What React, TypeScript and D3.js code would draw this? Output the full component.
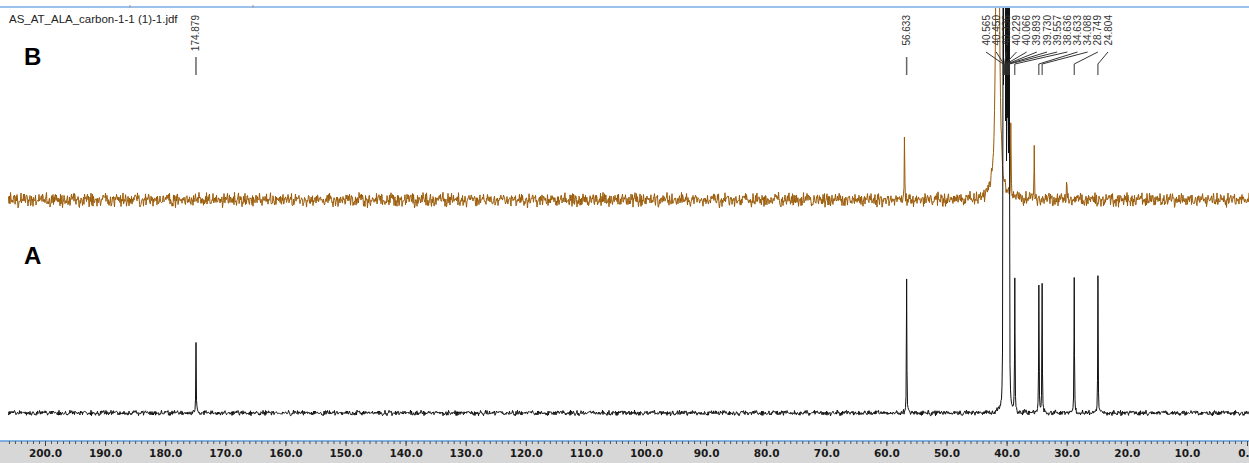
import * as d3 from "d3";
import { useEffect, useRef } from "react";

// chemical-shift axis labels (ppm)
const AXIS_LABELS = [200, 190, 180, 170, 160, 150, 140, 130, 120, 110, 100, 90, 80, 70, 60, 50, 40, 30, 20, 10, 0];

// peak picking labels drawn on top
const LABELS_SINGLE = ["174.879", "56.633"];
const LABELS_GROUP = ["40.565", "40.450", "40.336", "40.229", "40.066", "39.893", "39.730", "39.557", "38.636", "34.633", "34.088", "28.749", "24.804"];

// spectrum A (black, bottom trace)
const A_PPM = [174.879, 56.633, 40.565, 40.45, 40.336, 40.229, 40.066, 39.893, 39.73, 39.557, 38.636, 34.633, 34.088, 28.749, 24.804];
const A_HEIGHT = [71, 133, 900, 900, 900, 900, 900, 900, 900, 900, 132, 128, 129, 136, 136];
const A_WIDTH = [0.04, 0.04, 0.025, 0.025, 0.025, 0.025, 0.025, 0.025, 0.025, 0.025, 0.04, 0.04, 0.04, 0.04, 0.04];

// spectrum B (brown, top trace)
const B_PPM = [57.0, 41.5, 39.3, 35.4, 30.0];
const B_HEIGHT = [62, 900, 75, 60, 24];
const B_WIDTH = [0.04, 0.17, 0.04, 0.04, 0.05];

// baseline noise pattern
const NOISE = [0.42, -0.61, 0.15, 0.88, -0.27, -0.93, 0.36, 0.05, -0.48, 0.71, -0.12, 0.57, -0.79, 0.24, 0.96, -0.35,
  0.08, -0.66, 0.49, -0.18, 0.83, -0.54, 0.31, -0.87, 0.62, -0.03, 0.19, -0.72, 0.94, -0.41, 0.27, -0.58,
  0.75, -0.21, -0.95, 0.44, 0.11, -0.37, 0.68, -0.83, 0.52, 0.02, -0.64, 0.86, -0.15, 0.33, -0.49, 0.79,
  -0.08, -0.73, 0.58, 0.21, -0.91, 0.39, -0.26, 0.67, -0.45, 0.13, 0.91, -0.6, 0.29, -0.11, 0.55, -0.84];

export default function App() {
  const ref = useRef<SVGSVGElement>(null);

  useEffect(() => {
    const svg = d3.select(ref.current);
    svg.selectAll("*").remove();

    const W = 1249, H = 463;
    const x = d3.scaleLinear().domain([200, 0]).range([45, 1247]);
    const yB = d3.scaleLinear().domain([0, 100]).range([200, 100]);
    const yA = d3.scaleLinear().domain([0, 100]).range([413, 313]);
    const axisY = 441;

    svg.append("rect").attr("width", W).attr("height", H).attr("fill", "#fff");

    svg.append("defs").append("clipPath").attr("id", "plotclip")
      .append("rect").attr("x", 8).attr("y", 8).attr("width", W - 8).attr("height", axisY - 8);

    // top ruler line
    svg.append("line").attr("x1", 0).attr("x2", W).attr("y1", 7).attr("y2", 7)
      .style("stroke", "#7aaee6").style("stroke-width", "1.5px");
    [130, 253].forEach((tx) => {
      svg.append("line").attr("x1", tx).attr("x2", tx).attr("y1", 5).attr("y2", 8)
        .style("stroke", "#999").style("stroke-width", "1px");
    });

    svg.append("text").attr("x", 9).attr("y", 23)
      .style("font-family", "Liberation Sans, Arial, sans-serif").style("font-size", "11.5px").style("fill", "#222")
      .text("AS_AT_ALA_carbon-1-1 (1)-1.jdf");

    // sampling grid: half-pixel steps plus the exact peak positions
    const step = 0.5 / 6.01;
    const lo = x.invert(W), hi = x.invert(8);

    function trace(ppm: number[], height: number[], width: number[], amp: number, mult: number, off: number) {
      const grid = d3.range(lo, hi, step).concat(ppm).sort((a, b) => b - a);
      const n = NOISE.length;
      return grid.map((p, i) => {
        let v = 0;
        for (let k = 0; k < ppm.length; k++) {
          const w2 = width[k] * width[k];
          v += (height[k] * w2) / ((p - ppm[k]) * (p - ppm[k]) + w2);
        }
        const nz = 0.65 * NOISE[(i * mult + off) % n] + 0.55 * NOISE[(i * 5 + off * 3) % 61];
        return [p, v + nz * amp] as [number, number];
      });
    }

    const plot = svg.append("g").attr("clip-path", "url(#plotclip)");

    const dataB = trace(B_PPM, B_HEIGHT, B_WIDTH, 7, 7, 0);
    const dataA = trace(A_PPM, A_HEIGHT, A_WIDTH, 2.6, 11, 5);

    const lineB = d3.line<[number, number]>().x((d) => x(d[0])).y((d) => yB(d[1]));
    const lineA = d3.line<[number, number]>().x((d) => x(d[0])).y((d) => yA(d[1]));

    plot.append("path").attr("d", lineB(dataB))
      .style("fill", "none").style("stroke", "#9a5a06").style("stroke-width", "1px");
    plot.append("path").attr("d", lineA(dataA))
      .style("fill", "none").style("stroke", "#111").style("stroke-width", "1px");

    // panel letters
    svg.append("text").attr("x", 24).attr("y", 65)
      .style("font-family", "Liberation Sans, Arial, sans-serif").style("font-weight", "bold").style("font-size", "24px")
      .text("B");
    svg.append("text").attr("x", 24).attr("y", 264)
      .style("font-family", "Liberation Sans, Arial, sans-serif").style("font-weight", "bold").style("font-size", "24px")
      .text("A");

    // peak labels
    const labelFont = (sel: any) => sel
      .style("font-family", "Liberation Sans, Arial, sans-serif").style("font-size", "10px").style("fill", "#333")
      .attr("text-anchor", "end").attr("dy", "0.35em");

    LABELS_SINGLE.forEach((lab) => {
      const px = x(+lab);
      labelFont(svg.append("text").attr("transform", `translate(${px},15) rotate(-90)`)).text(lab);
      svg.append("line").attr("x1", px).attr("x2", px).attr("y1", 57).attr("y2", 75)
        .style("stroke", "#666").style("stroke-width", "1.5px");
    });

    const gx0 = 986, gx1 = 1108;
    const gstep = (gx1 - gx0) / (LABELS_GROUP.length - 1);
    LABELS_GROUP.forEach((lab, i) => {
      const lx = gx0 + i * gstep;
      const px = x(+lab);
      labelFont(svg.append("text").attr("transform", `translate(${lx},15) rotate(-90)`)).text(lab);
      svg.append("path").attr("d", `M${lx},52L${px},64L${px},75`)
        .style("fill", "none").style("stroke", "#333").style("stroke-width", "1px");
    });

    // bottom axis band
    svg.append("rect").attr("x", 0).attr("y", axisY).attr("width", W).attr("height", H - axisY).attr("fill", "#d7d7d7");
    svg.append("line").attr("x1", 0).attr("x2", W).attr("y1", axisY).attr("y2", axisY)
      .style("stroke", "#5a9bdc").style("stroke-width", "1.5px");

    const minor = svg.append("g").attr("transform", `translate(0,${axisY})`)
      .call(d3.axisBottom(x).tickValues(d3.range(0, 207, 1)).tickSize(3).tickFormat(() => ""));
    minor.select(".domain").remove();
    minor.selectAll("line").style("stroke", "#555");

    const major = svg.append("g").attr("transform", `translate(0,${axisY})`)
      .call(d3.axisBottom(x).tickValues(AXIS_LABELS).tickSize(5).tickFormat(d3.format(".1f")));
    major.select(".domain").remove();
    major.selectAll("line").style("stroke", "#444");
    major.selectAll("text").attr("y", 9)
      .style("font-family", "DejaVu Sans, Verdana, sans-serif").style("font-size", "10.5px")
      .style("font-weight", "bold").style("fill", "#1a1a1a");
  }, []);

  return (
    <svg ref={ref} width={1249} height={463}
      style={{ position: "absolute", left: 0, top: 0, display: "block" }} />
  );
}
